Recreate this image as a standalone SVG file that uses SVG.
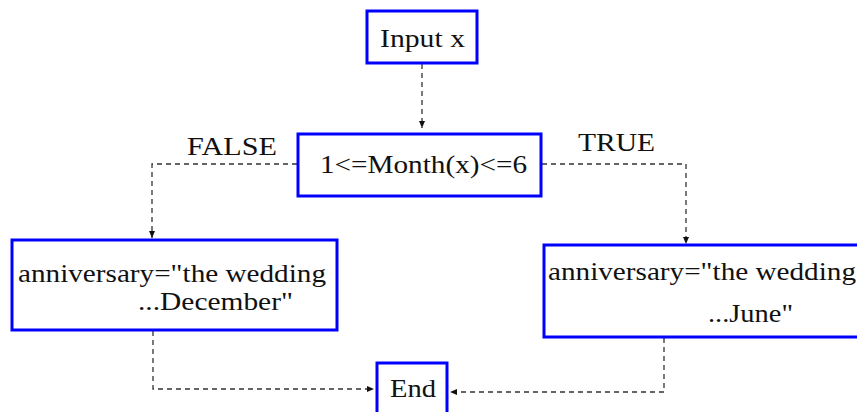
<svg xmlns="http://www.w3.org/2000/svg" width="857" height="412" viewBox="0 0 857 412">
<defs>
<marker id="ah" markerWidth="8" markerHeight="8" refX="7" refY="4" orient="auto" markerUnits="userSpaceOnUse">
<path d="M0,1 L7,4 L0,7 Z" fill="#111"/>
</marker>
<style>
.box{fill:#fff;stroke:#0000ff;stroke-width:3}
.t{font-family:"Liberation Serif","Times New Roman",serif;font-size:25px;fill:#111}
.c{fill:none;stroke:#333;stroke-width:1.3;stroke-dasharray:5,4;marker-end:url(#ah)}
</style>
</defs>
<rect width="857" height="412" fill="#fff"/>
<g id="connectors">
<path class="c" d="M422,64 V128"/>
<path class="c" d="M297,164 H152 V238"/>
<path class="c" d="M542,164 H686 V244"/>
<path class="c" d="M153,331 V389 H374"/>
<path class="c" d="M664,338 V392 H450"/>
</g>
<g id="input">
<rect class="box" x="367" y="11" width="110" height="52"/>
<text class="t" x="380" y="47" textLength="85" lengthAdjust="spacingAndGlyphs">Input x</text>
</g>
<g id="decision">
<rect class="box" x="298" y="134" width="243" height="62"/>
<text class="t" x="320" y="173" textLength="207" lengthAdjust="spacingAndGlyphs">1&lt;=Month(x)&lt;=6</text>
</g>
<g id="labels">
<text class="t" x="187" y="155" textLength="90" lengthAdjust="spacingAndGlyphs">FALSE</text>
<text class="t" x="578" y="151" textLength="77" lengthAdjust="spacingAndGlyphs">TRUE</text>
</g>
<g id="false-branch">
<rect class="box" x="12" y="240" width="325" height="90"/>
<text class="t" x="18" y="282" textLength="308" lengthAdjust="spacingAndGlyphs">anniversary="the wedding</text>
<text class="t" x="138" y="310" textLength="155" lengthAdjust="spacingAndGlyphs">...December"</text>
</g>
<g id="true-branch">
<rect class="box" x="544" y="245" width="320" height="92"/>
<text class="t" x="548" y="280" textLength="308" lengthAdjust="spacingAndGlyphs">anniversary="the wedding</text>
<text class="t" x="708" y="322" textLength="85" lengthAdjust="spacingAndGlyphs">...June"</text>
</g>
<g id="end">
<rect class="box" x="377" y="363" width="70" height="52"/>
<text class="t" x="390" y="397" textLength="46" lengthAdjust="spacingAndGlyphs">End</text>
</g>
</svg>
